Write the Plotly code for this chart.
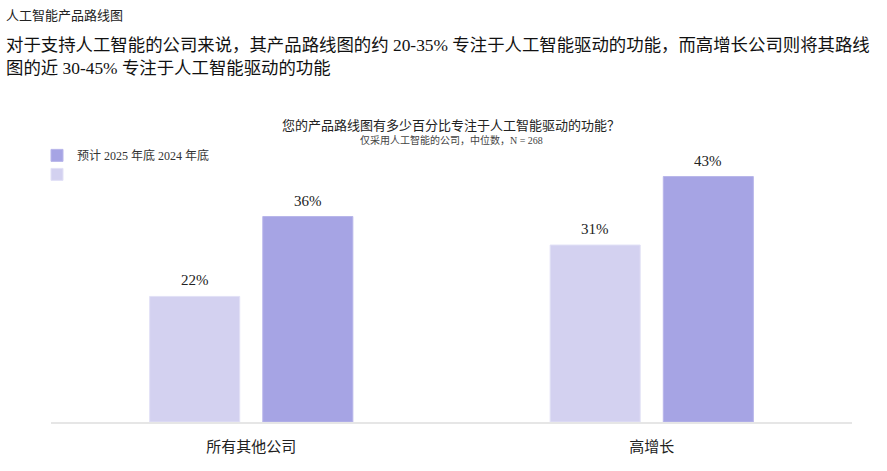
import plotly.graph_objects as go

categories = ["所有其他公司", "高增长"]
values_2024 = [22, 31]
values_2025 = [36, 43]
name_2024 = " "
name_2025 = "预计 2025 年底 2024 年底"

FONT = "Liberation Serif, Noto Sans CJK SC, serif"
light = "#d3d1f0"
dark = "#a6a4e4"

fig = go.Figure()
fig.add_trace(go.Bar(
    x=categories, y=values_2024, name=name_2024,
    marker=dict(color=light, line=dict(color="#e2e1f6", width=1)),
))
fig.add_trace(go.Bar(
    x=categories, y=values_2025, name=name_2025,
    marker=dict(color=dark, line=dict(color="#b8b6ea", width=1)),
))

annotations = []
for vals, shift in ((values_2024, -56.5), (values_2025, 56.5)):
    for c, v in zip(categories, vals):
        annotations.append(dict(
            x=c, y=v, xref="x", yref="y", text=f"{v}%", showarrow=False,
            xshift=shift, yshift=6, yanchor="bottom",
            font=dict(size=15, family=FONT, color="#222")))

annotations += [
    dict(text="人工智能产品路线图", xref="paper", yref="paper", x=-47/801, y=1+(148-16)/274,
         xanchor="left", yanchor="middle", showarrow=False,
         font=dict(size=13, family=FONT, color="#222")),
    dict(text="对于支持人工智能的公司来说，其产品路线图的约 20-35% 专注于人工智能驱动的功能，而高增长公司则将其路线<br>图的近 30-45% 专注于人工智能驱动的功能",
         xref="paper", yref="paper", x=-47/801, y=1+(148-33)/274,
         xanchor="left", yanchor="top", align="left", showarrow=False,
         font=dict(size=17.4, family=FONT, color="#111")),
    dict(text="您的产品路线图有多少百分比专注于人工智能驱动的功能？", xref="paper", yref="paper",
         x=(451-51)/801, y=1+(148-125)/274, xanchor="center", yanchor="middle", showarrow=False,
         font=dict(size=13, family=FONT, color="#222")),
    dict(text="仅采用人工智能的公司，中位数，N = 268", xref="paper", yref="paper",
         x=(451-51)/801, y=1+(148-140)/274, xanchor="center", yanchor="middle", showarrow=False,
         font=dict(size=10, family=FONT, color="#444")),
]

fig.update_layout(
    width=887, height=471,
    margin=dict(l=51, r=35, t=148, b=49),
    paper_bgcolor="white", plot_bgcolor="white",
    font=dict(family=FONT, color="#222"),
    barmode="group", bargap=0.435, bargroupgap=0.204,
    showlegend=True,
    legend=dict(
        traceorder="reversed", x=-14/801, xanchor="left", y=1.026, yanchor="top",
        font=dict(size=12, family=FONT, color="#333"),
        itemwidth=30, tracegroupgap=0, bgcolor="rgba(0,0,0,0)",
    ),
    xaxis=dict(
        showgrid=False, showline=True, linecolor="#e6e6e6", linewidth=2,
        ticks="", ticklabelstandoff=10, tickfont=dict(size=15, family=FONT, color="#222"),
    ),
    yaxis=dict(range=[0, 48], visible=False, showgrid=False, zeroline=False),
    annotations=annotations,
)

fig.write_html("out.html")
